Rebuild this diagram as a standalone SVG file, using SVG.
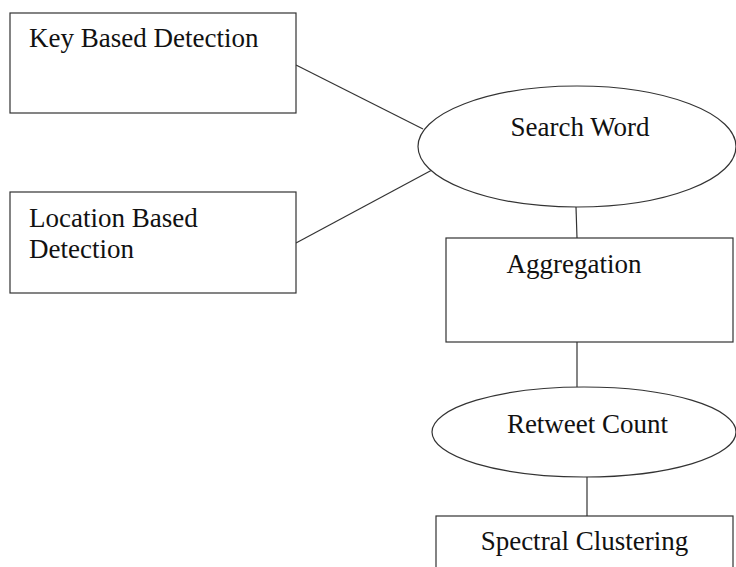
<svg xmlns="http://www.w3.org/2000/svg" width="736" height="567" viewBox="0 0 736 567">
<style>
.box{fill:#fff;stroke:#333;stroke-width:1.2}
.lbl{font-family:"Liberation Serif","Times New Roman",serif;font-size:27px;fill:#111}
.c{text-anchor:middle}
.edge{stroke:#333;stroke-width:1.2;fill:none}
</style>
<rect width="736" height="567" fill="#fff"/>
<g id="connectors">
<line class="edge" x1="296" y1="65" x2="423" y2="129"/>
<line class="edge" x1="296" y1="243" x2="432" y2="170"/>
<line class="edge" x1="576" y1="207" x2="577" y2="238"/>
<line class="edge" x1="577" y1="342" x2="577" y2="387"/>
<line class="edge" x1="587" y1="477" x2="587" y2="516"/>
</g>
<g id="key-based">
<rect class="box" x="10" y="13" width="286" height="100"/>
<text class="lbl" x="29" y="47">Key Based Detection</text>
</g>
<g id="location-based">
<rect class="box" x="10" y="192" width="286" height="101"/>
<text class="lbl" x="29" y="227">Location Based</text>
<text class="lbl" x="29" y="258">Detection</text>
</g>
<g id="search-word">
<ellipse class="box" cx="577" cy="146.5" rx="159" ry="60.5"/>
<text class="lbl c" x="580" y="136">Search Word</text>
</g>
<g id="aggregation">
<rect class="box" x="446" y="238" width="287" height="104"/>
<text class="lbl c" x="574" y="273">Aggregation</text>
</g>
<g id="retweet-count">
<ellipse class="box" cx="584" cy="432" rx="152" ry="45"/>
<text class="lbl c" x="587.5" y="433">Retweet Count</text>
</g>
<g id="spectral-clustering">
<rect class="box" x="436" y="516" width="297" height="60"/>
<text class="lbl c" x="584.5" y="550">Spectral Clustering</text>
</g>
</svg>
